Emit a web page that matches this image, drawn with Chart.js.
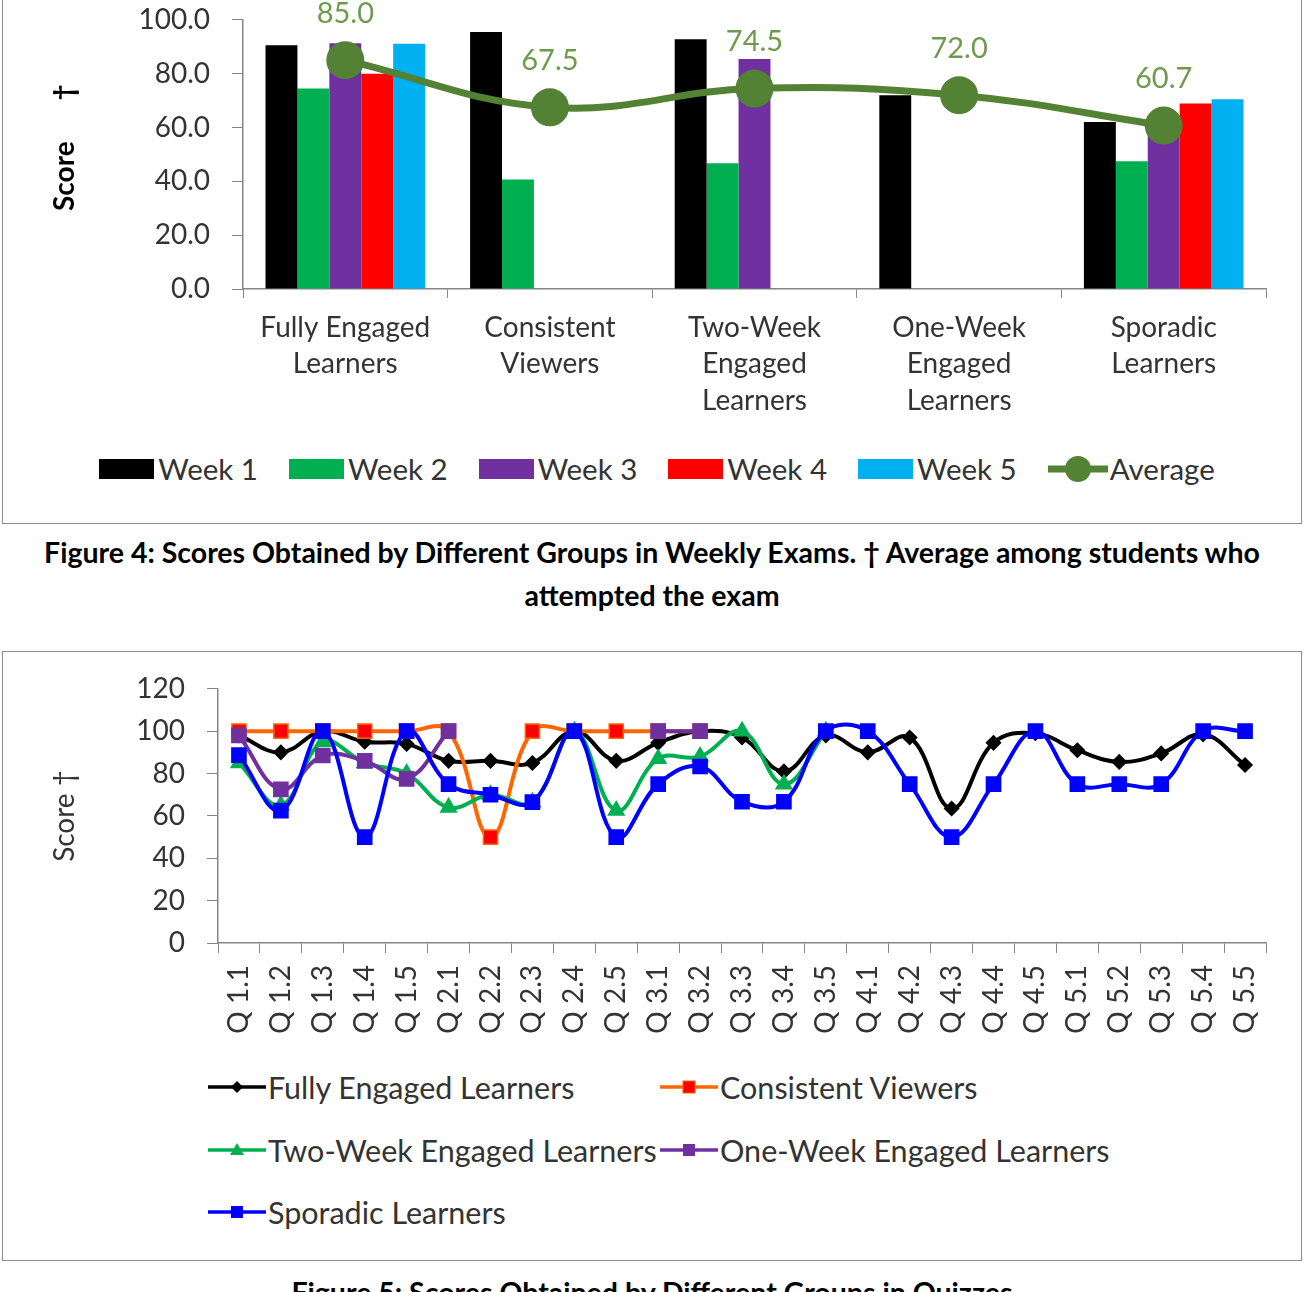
<!DOCTYPE html>
<html>
<head>
<meta charset="utf-8">
<script src="https://cdn.jsdelivr.net/npm/chart.js@4.4.1/dist/chart.umd.min.js"></script>
<style>
  body { margin: 0; width: 1304px; height: 1292px; overflow: hidden; background: #fff; font-family: Lato, sans-serif; position: relative; }
  .box { position: absolute; left: 2px; width: 1300px; border: 1px solid #8c8c8c; box-sizing: border-box; }
  .wrap { position: absolute; left: 3px; width: 1298px; }
  .caption { position: absolute; left: 0; width: 1304px; text-align: center; font-weight: bold; font-size: 28.5px; line-height: 43px; color: #000; }
  #weekLegend { position: absolute; left: 5px; top: 451px; width: 1304px; display: flex; justify-content: center; align-items: center; gap: 31px; font-size: 29.5px; color: #333; }
  #weekLegend .item { display: flex; align-items: center; }
  #weekLegend .sw { display: inline-block; width: 55px; height: 20px; margin-right: 4px; }
  #quizLegend { position: absolute; left: 208px; top: 1056px; display: grid; grid-template-columns: 452px auto; grid-auto-rows: 62.5px; align-items: center; font-size: 30.5px; color: #333; }
  #quizLegend .item { display: flex; align-items: center; white-space: nowrap; }
  #quizLegend svg { margin-right: 2px; }
</style>
</head>
<body>
<div class="box" style="top:-20px; height:544px;"></div>
<div class="wrap" style="top:-19px; height:451px;"><canvas id="weekly"></canvas></div>
<div id="weekLegend"></div>
<div class="caption" style="top:531px;">Figure 4: Scores Obtained by Different Groups in Weekly Exams. † Average among students who<br>attempted the exam</div>

<div class="box" style="top:651px; height:610px;"></div>
<div class="wrap" style="top:650px; height:403px;"><canvas id="quizzes"></canvas></div>
<div id="quizLegend"></div>
<div class="caption" style="top:1271px;">Figure 5: Scores Obtained by Different Groups in Quizzes</div>

<script>
// Figure 4 data
var groupLabels = [['Fully Engaged', 'Learners'], ['Consistent', 'Viewers'], ['Two-Week', 'Engaged', 'Learners'], ['One-Week', 'Engaged', 'Learners'], ['Sporadic', 'Learners']];
var weekNames = ['Week 1', 'Week 2', 'Week 3', 'Week 4', 'Week 5'];
var week1Scores = [90.5, 95.5, 92.8, 72, 62];
var week2Scores = [74.5, 40.7, 46.7, null, 47.5];
var week3Scores = [91.3, null, 85.4, null, 57.3];
var week4Scores = [80, null, null, null, 68.9];
var week5Scores = [91.1, null, null, null, 70.5];
var averageScores = [85.0, 67.5, 74.5, 72.0, 60.7];
var weekColors = ['#000000', '#00b050', '#7030a0', '#ff0000', '#00b0f0'];
var averageColor = '#548235';

// Figure 5 data
var quizLabels = ['Q 1.1', 'Q 1.2', 'Q 1.3', 'Q 1.4', 'Q 1.5', 'Q 2.1', 'Q 2.2', 'Q 2.3', 'Q 2.4', 'Q 2.5',
  'Q 3.1', 'Q 3.2', 'Q 3.3', 'Q 3.4', 'Q 3.5', 'Q 4.1', 'Q 4.2', 'Q 4.3', 'Q 4.4', 'Q 4.5',
  'Q 5.1', 'Q 5.2', 'Q 5.3', 'Q 5.4', 'Q 5.5'];
var fullyQuiz = [98, 90, 100, 95, 94, 86, 86, 85, 100, 86, 94.5, 100, 97, 81, 98, 90, 97, 63.5, 94.5, 99, 91, 85.5, 89.5, 98.5, 84];
var consistentQuiz = [100, 100, 100, 100, 100, 100, 50, 100, 100, 100, 100, 100, null, null, null, null, null, null, null, null, null, null, null, null, null];
var twoWeekQuiz = [85, 65, 95, 85, 80, 64, 70, 66.5, 100, 62.5, 87, 88, 100, 75, 100, null, null, null, null, null, null, null, null, null, null];
var oneWeekQuiz = [98, 72.5, 88.5, 86, 77.5, 100, null, null, null, null, 100, 100, null, null, null, null, null, null, null, null, null, null, null, null, null];
var sporadicQuiz = [88.7, 62.5, 100, 50, 100, 75, 70, 66.5, 100, 50, 75, 83.3, 66.7, 66.7, 100, 100, 75, 50, 75, 100, 75, 75, 75, 100, 100];
var quizSeries = ['Fully Engaged Learners', 'Consistent Viewers', 'Two-Week Engaged Learners', 'One-Week Engaged Learners', 'Sporadic Learners'];

var axisGray = '#868686';
var textGray = '#333333';
Chart.defaults.font.family = 'Lato, sans-serif';
Chart.defaults.color = textGray;

window.addEventListener('load', init);

function init() {
  drawWeekly();
  drawQuizzes();
  buildWeekLegend();
  buildQuizLegend();
}

// value labels above the average points
var avgLabels = {
  id: 'avgLabels',
  afterDatasetsDraw: function(chart) {
    var meta = chart.getDatasetMeta(5);
    var ctx = chart.ctx;
    ctx.save();
    ctx.font = '29px Lato';
    ctx.fillStyle = '#6e9a4c';
    ctx.textAlign = 'center';
    ctx.textBaseline = 'middle';
    meta.data.forEach(function(pt, i) {
      ctx.fillText(averageScores[i].toFixed(1), pt.x, pt.y - 47);
    });
    ctx.restore();
  }
};

function drawWeekly() {
  var weekData = [week1Scores, week2Scores, week3Scores, week4Scores, week5Scores];
  var datasets = weekData.map(function(d, i) {
    return {
      type: 'bar',
      label: weekNames[i],
      data: d,
      backgroundColor: weekColors[i],
      categoryPercentage: 0.78,
      barPercentage: 1,
      order: 2
    };
  });
  datasets.push({
    type: 'line',
    label: 'Average',
    data: averageScores,
    borderColor: averageColor,
    backgroundColor: averageColor,
    borderWidth: 7,
    pointRadius: 15.5,
    pointHoverRadius: 15.5,
    tension: 0.4,
    order: 1
  });

  new Chart('weekly', {
    data: { labels: groupLabels, datasets: datasets },
    plugins: [avgLabels],
    options: {
      responsive: true,
      maintainAspectRatio: false,
      animation: false,
      layout: { padding: { top: 0, right: 35, left: 0, bottom: 0 } },
      plugins: { legend: { display: false }, tooltip: { enabled: false } },
      scales: {
        x: {
          offset: true,
          grid: { offset: true, drawOnChartArea: false, drawTicks: true, tickLength: 9, color: axisGray },
          border: { color: axisGray, width: 1.5 },
          ticks: { font: { size: 28, lineHeight: 1.32 }, color: textGray, padding: 11, maxRotation: 0 },
          afterFit: function(scale) { scale.height = 143; }
        },
        y: {
          min: 0,
          max: 100,
          ticks: { stepSize: 20, font: { size: 28 }, color: textGray, padding: 22,
            callback: function(v) { return v.toFixed(1); } },
          grid: { drawOnChartArea: false, drawTicks: true, tickLength: 11, color: axisGray },
          border: { color: axisGray, width: 1.5 },
          title: { display: true, text: '  Score      †', font: { size: 28, weight: 'bold' }, color: '#000', padding: { top: 45, bottom: 0 } },
          afterFit: function(scale) { scale.width = 240; }
        }
      }
    }
  });
}

function drawQuizzes() {
  var seriesData = [fullyQuiz, consistentQuiz, twoWeekQuiz, oneWeekQuiz, sporadicQuiz];
  var lineColors = ['#000000', '#ff6600', '#00b050', '#7030a0', '#0000ff'];
  var markerFill = ['#000000', '#ff0000', '#00b050', '#7030a0', '#0000ff'];
  var markerStyle = ['rectRot', 'rect', 'triangle', 'rect', 'rect'];
  var markerSize = [7, 10, 9, 10, 10];
  var datasets = seriesData.map(function(d, i) {
    return {
      label: quizSeries[i],
      data: d,
      borderColor: lineColors[i],
      backgroundColor: markerFill[i],
      pointBorderColor: lineColors[i],
      pointBorderWidth: 1.5,
      pointStyle: markerStyle[i],
      pointRadius: markerSize[i],
      pointHoverRadius: markerSize[i],
      borderWidth: 4,
      tension: 0.4,
      spanGaps: false,
      order: 5 - i
    };
  });

  new Chart('quizzes', {
    type: 'line',
    data: { labels: quizLabels, datasets: datasets },
    options: {
      responsive: true,
      maintainAspectRatio: false,
      animation: false,
      layout: { padding: { top: 0, right: 35, left: 0, bottom: 0 } },
      plugins: { legend: { display: false }, tooltip: { enabled: false } },
      scales: {
        x: {
          offset: true,
          grid: { offset: true, drawOnChartArea: false, drawTicks: true, tickLength: 10, color: axisGray },
          border: { color: axisGray, width: 1.5 },
          ticks: { font: { size: 28 }, color: textGray, padding: 12, minRotation: 90, maxRotation: 90, autoSkip: false },
          afterFit: function(scale) { scale.height = 110; }
        },
        y: {
          min: 0,
          max: 120,
          ticks: { stepSize: 20, font: { size: 28 }, color: textGray, padding: 22 },
          grid: { drawOnChartArea: false, drawTicks: true, tickLength: 11, color: axisGray },
          border: { color: axisGray, width: 1.5 },
          title: { display: true, text: 'Score †', font: { size: 28 }, color: textGray, padding: { top: 45, bottom: 0 } },
          afterFit: function(scale) { scale.width = 215; }
        }
      }
    }
  });
}

function buildWeekLegend() {
  var html = '';
  weekNames.forEach(function(name, i) {
    html += '<div class="item"><span class="sw" style="background:' + weekColors[i] + '"></span>' + name + '</div>';
  });
  html += '<div class="item"><svg width="60" height="30" style="margin-right:2px"><line x1="0" y1="15" x2="60" y2="15" stroke="' + averageColor +
    '" stroke-width="7" stroke-linecap="round"/><circle cx="30" cy="15" r="13" fill="' + averageColor + '"/></svg>Average</div>';
  id('weekLegend').innerHTML = html;
}

function buildQuizLegend() {
  var lineColors = ['#000000', '#ff6600', '#00b050', '#7030a0', '#0000ff'];
  var markers = [
    '<polygon points="29,4 35,10 29,16 23,10" fill="#000"/>',
    '<rect x="23" y="4" width="12" height="12" fill="#ff0000" stroke="#ff6600" stroke-width="1"/>',
    '<polygon points="29,3 36,15 22,15" fill="#00b050"/>',
    '<rect x="23" y="4" width="12" height="12" fill="#7030a0"/>',
    '<rect x="23" y="4" width="12" height="12" fill="#0000ff"/>'
  ];
  var html = '';
  quizSeries.forEach(function(name, i) {
    html += '<div class="item"><svg width="58" height="20"><line x1="0" y1="10" x2="58" y2="10" stroke="' + lineColors[i] +
      '" stroke-width="3.5"/>' + markers[i] + '</svg>' + name + '</div>';
  });
  id('quizLegend').innerHTML = html;
}

function id(id) {
  return document.getElementById(id);
}
</script>
</body>
</html>
